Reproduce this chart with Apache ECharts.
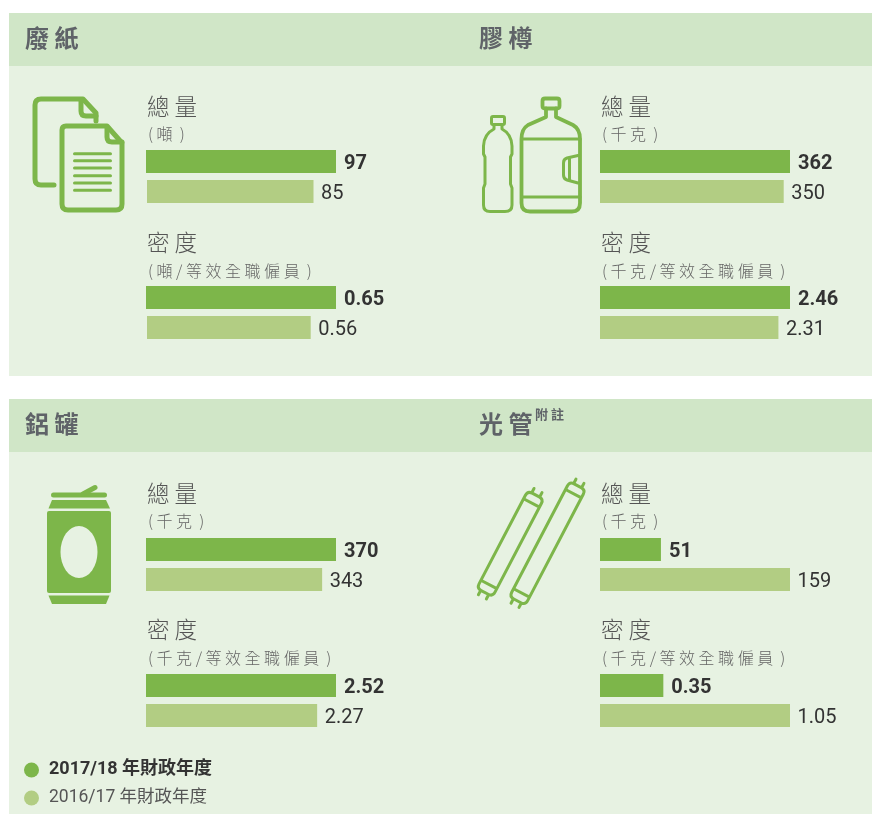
<!DOCTYPE html>
<html>
<head>
<meta charset="utf-8">
<title>廢物回收</title>
<style>
html, body { margin: 0; padding: 0; background: #fff; }
#main { width: 872px; height: 814px; }
</style>
<script src="https://cdn.jsdelivr.net/npm/echarts@6/dist/echarts.min.js"></script>
</head>
<body>
<div id="main"></div>
<script>
// 數據
var years = ['2017/18 年財政年度', '2016/17 年財政年度'];
var panelNames = ['廢紙', '膠樽', '鋁罐', '光管'];
var units = ['噸', '千克', '千克', '千克'];
var total1718 = [97, 362, 370, 51];
var total1617 = [85, 350, 343, 159];
var density1718 = [0.65, 2.46, 2.52, 0.35];
var density1617 = [0.56, 2.31, 2.27, 1.05];

var GREEN = '#7db64a', LIGHT = '#b2cd83', HEAD = '#d0e6c7', BODY = '#e7f2e2';
var latin = 'Roboto, "Noto Sans CJK TC", sans-serif';
var cjk = '"Noto Sans CJK TC", sans-serif';

var panelX = [146, 600, 146, 600];
var panelY = [150, 150, 538, 538];
var lightShift = [1, 0, 0, 0];

var grids = [], xAxes = [], yAxes = [], seriesList = [];

function addBar(panel, left, top, value, max, yearIdx) {
  var idx = grids.length;
  grids.push({ left: left, top: top, width: 190, height: 23 });
  xAxes.push({ gridIndex: idx, type: 'value', min: 0, max: max, show: false });
  yAxes.push({ gridIndex: idx, type: 'category', data: [panelNames[panel]], show: false });
  seriesList.push({
    name: years[yearIdx],
    type: 'bar',
    xAxisIndex: idx,
    yAxisIndex: idx,
    data: [value],
    barCategoryGap: 0,
    itemStyle: { color: yearIdx === 0 ? GREEN : LIGHT },
    label: {
      show: true,
      position: 'right',
      distance: yearIdx === 0 ? 8 : 7.5,
      offset: [0, 2.5],
      color: '#333',
      fontFamily: latin,
      fontSize: 20,
      fontWeight: yearIdx === 0 ? 'bold' : 'normal'
    }
  });
}

panelNames.forEach(function (n, i) {
  var m = Math.max(total1718[i], total1617[i]);
  addBar(i, panelX[i], panelY[i], total1718[i], m, 0);
  addBar(i, panelX[i] + lightShift[i], panelY[i] + 30, total1617[i], m, 1);
  var d = Math.max(density1718[i], density1617[i]);
  addBar(i, panelX[i], panelY[i] + 136, density1718[i], d, 0);
  addBar(i, panelX[i] + lightShift[i], panelY[i] + 166, density1617[i], d, 1);
});

function txt(x, y, text, size, color, weight) {
  return {
    type: 'text', x: x, y: y, silent: true,
    style: {
      text: text, fill: color, verticalAlign: 'middle',
      font: (weight || 'normal') + ' ' + size + 'px ' + cjk
    }
  };
}
function box(x, y, w, h, color) {
  return { type: 'rect', z: -1, silent: true, shape: { x: x, y: y, width: w, height: h }, style: { fill: color } };
}
function line(d, w) {
  return {
    type: 'path', shape: { pathData: d },
    style: { fill: 'none', stroke: GREEN, lineWidth: w, lineCap: 'round', lineJoin: 'round' }
  };
}
function solid(d) {
  return { type: 'path', shape: { pathData: d }, style: { fill: GREEN } };
}
function tube(cx, cy, len) {
  var h = len / 2;
  var d = 'M-9,' + (-h + 5) + ' Q-9,' + (-h) + ' -4,' + (-h) + ' H4 Q9,' + (-h) + ' 9,' + (-h + 5) +
    ' V' + (h - 5) + ' Q9,' + h + ' 4,' + h + ' H-4 Q-9,' + h + ' -9,' + (h - 5) + ' Z' +
    ' M-9,' + (-h + 9) + ' H9 M-9,' + (h - 9) + ' H9' +
    ' M-4.5,' + (-h) + ' V' + (-h - 5) + ' M4.5,' + (-h) + ' V' + (-h - 5) +
    ' M-4.5,' + h + ' V' + (h + 5) + ' M4.5,' + h + ' V' + (h + 5);
  var el = line(d, 3);
  el.x = cx; el.y = cy; el.rotation = -0.482;
  return el;
}

var graphics = [
  box(9, 13, 863, 53, HEAD), box(9, 66, 863, 310, BODY),
  box(9, 399, 863, 53, HEAD), box(9, 452, 863, 362, BODY),
  txt(25, 38, '廢 紙', 24, '#5f6368', 'bold'),
  txt(479, 38, '膠 樽', 24, '#5f6368', 'bold'),
  txt(25, 424, '鋁 罐', 24, '#5f6368', 'bold'),
  txt(479, 424, '光 管', 24, '#5f6368', 'bold'),
  txt(535, 414, '附 註', 13, '#5f6368', 'bold')
];

var textX = [147, 601, 147, 601];
var textY = [107, 107, 494, 494];
panelNames.forEach(function (n, i) {
  var u = units[i].split('').join(' ');
  graphics.push(
    txt(textX[i], textY[i] - 1, '總 量', 22.5, '#555', '300'),
    txt(textX[i] + 1, textY[i] + 27, '( ' + u + '  )', 16, '#666', '300'),
    txt(textX[i], textY[i] + 135, '密 度', 22.5, '#555', '300'),
    txt(textX[i] + 1, textY[i] + 164, '( ' + u + ' / 等 效 全 職 僱 員  )', 16, '#666', '300')
  );
});

// 圖示
var icons = [
  // 紙
  line('M54,185 H41 Q35,185 35,179 V105 Q35,99 41,99 H83 L96,113 V121', 5),
  line('M81,100 V111 Q81,116 86,116 H96', 5),
  line('M66,126 H107 L122,143 V204 Q122,210 116,210 H68 Q62,210 62,204 V130 Q62,126 66,126 Z', 5),
  line('M107,127 V137 Q107,142 112,142 H122', 5),
  line('M74.5,153.7 H110.5 M74.5,160.7 H110.5 M74.5,168 H110.5 M74.5,175.7 H110.5 M74.5,183 H110.5 M74.5,190.3 H110.5', 3),
  // 樽
  line('M545,98.5 H557 Q559.5,98.5 559.5,101 V106 Q559.5,108.5 557,108.5 H545 Q542.5,108.5 542.5,106 V101 Q542.5,98.5 545,98.5 Z', 3.8),
  line('M546,108.5 V117 L528,125 Q521.5,129 521.5,139 V203 Q521.5,211.5 530,211.5 H572 Q580,211.5 580,203 V139 Q580,129 573,125 L556,117 V108.5', 3.8),
  line('M521.5,139 H580 M521.5,197 H580', 3),
  line('M578,155.5 L567,158 Q563.5,159 563.5,163 V175 Q563.5,179 567,180 L578,183 M569.5,159 V180', 3),
  line('M493,116.5 H503 Q504.5,116.5 504.5,118 V123 Q504.5,124.5 503,124.5 H493 Q491.5,124.5 491.5,123 V118 Q491.5,116.5 493,116.5 Z', 3),
  line('M494,124.5 V129 Q484,134 483.5,146 V154 L485,157 V184 L483.5,188 V205 Q483.5,211.5 490,211.5 H505 Q512,211.5 512,205 V188 L510.5,184 V157 L512,154 V146 Q511.5,134 502,129 V124.5', 3),
  // 罐
  line('M53.5,495 H104.5', 5),
  line('M83,494 L95,487.5', 5),
  solid('M52,500 H106 L110,508.5 H48.5 Z'),
  solid('M49,511 H109 Q111,511 111,513 V591 Q111,593 109,593 H49 Q47,593 47,591 V513 Q47,511 49,511 Z'),
  solid('M48.5,595.5 H109.5 L106,604 H52 Z'),
  { type: 'circle', x: 79, y: 552, scaleX: 18.5, scaleY: 26, shape: { cx: 0, cy: 0, r: 1 }, style: { fill: BODY } },
  // 光管
  tube(510.2, 543.7, 110),
  tube(547.5, 543.3, 130)
];

seriesList.push({
  type: 'custom',
  coordinateSystem: 'none',
  silent: true,
  data: [0],
  renderItem: function () {
    return { type: 'group', children: icons };
  }
});

var myChart = echarts.init(document.getElementById('main'));
var option = {
  animation: false,
  backgroundColor: '#fff',
  tooltip: {},
  legend: {
    left: 24, top: 761, orient: 'vertical', padding: 0,
    itemWidth: 15, itemHeight: 15, itemGap: 10.2, icon: 'circle',
    textStyle: { fontFamily: latin, fontSize: 18, color: '#555', padding: [0, 0, 0, 5] },
    data: [
      { name: years[0], textStyle: { fontWeight: 'bold', color: '#333' } },
      { name: years[1], textStyle: { fontSize: 17.5 } }
    ]
  },
  grid: grids,
  xAxis: xAxes,
  yAxis: yAxes,
  series: seriesList,
  graphic: { elements: graphics }
};
myChart.setOption(option);
</script>
</body>
</html>
